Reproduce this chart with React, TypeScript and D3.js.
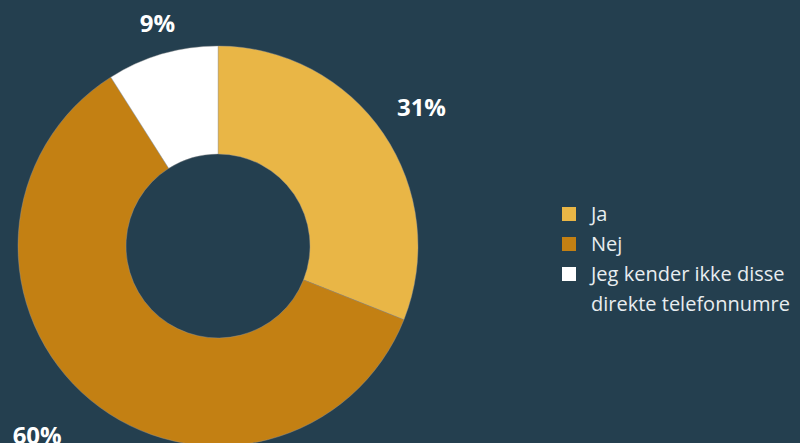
import React from "react";
import * as d3 from "d3";

const categories = ["Ja", "Nej", "Jeg kender ikke disse direkte telefonnumre"];
const legendLines = [["Ja"], ["Nej"], ["Jeg kender ikke disse", "direkte telefonnumre"]];
const values = [31, 60, 9];
const colors = ["#e9b646", "#c38013", "#ffffff"];

export default function App() {
  const W = 800, H = 443;
  const cx = 218, cy = 246, rOuter = 200, rInner = 92;
  const pie = d3.pie<number>().sort(null).value((d) => d)(values);
  const arc = d3.arc<d3.PieArcDatum<number>>().innerRadius(rInner).outerRadius(rOuter);
  const labelR = 246;
  const fs = 24;
  let ly = 214;
  return (
    <svg width={W} height={H} style={{ position: "absolute", left: 0, top: 0, display: "block" }}>
      <rect width={W} height={H} fill="#243f4f" />
      <g transform={`translate(${cx},${cy})`}>
        {pie.map((p, i) => (
          <path key={i} d={arc(p) || ""} fill={colors[i]} stroke="#9a9a9a" strokeWidth={0.4} />
        ))}
      </g>
      {pie.map((p, i) => {
        const a = (p.startAngle + p.endAngle) / 2;
        let x = cx + Math.sin(a) * labelR;
        let y = cy - Math.cos(a) * labelR;
        // keep labels inside the top edge
        if (y < 24) { y = 24; x += 8; }
        // left-side labels near the bottom are drawn a little further out
        if (Math.sin(a) < -0.5 && y > H - 20) x -= 24;
        return (
          <text key={i} x={x} y={y} dy="0.35em" textAnchor="middle" fill="#ffffff"
            fontFamily="'Open Sans', 'Noto Sans', sans-serif" fontWeight={700} fontSize={fs}>
            {`${values[i]}%`}
          </text>
        );
      })}
      <g fontFamily="'Open Sans', 'Noto Sans', sans-serif" fontSize={20} fill="#e8edf0">
        {legendLines.map((lines, i) => {
          const y0 = ly;
          ly += lines.length * 30;
          return (
            <g key={i}>
              <rect x={562} y={y0 - 7} width={14} height={14} fill={colors[i]} />
              {lines.map((t, j) => (
                <text key={j} x={591} y={y0 + j * 30} dy="0.35em">{t}</text>
              ))}
            </g>
          );
        })}
      </g>
    </svg>
  );
}
